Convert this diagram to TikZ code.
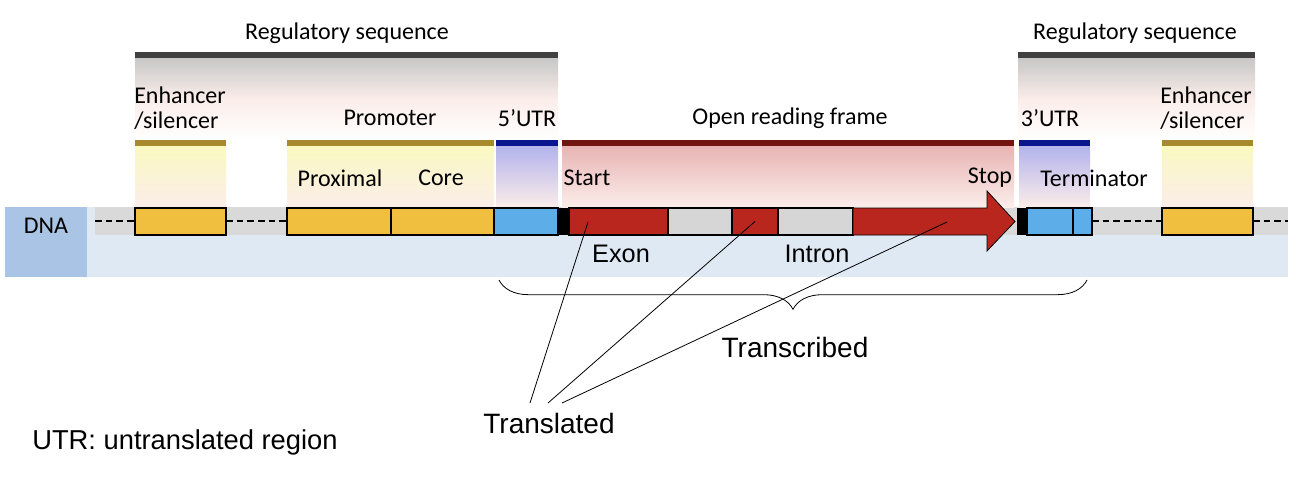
\documentclass[tikz,border=0pt]{standalone}
\usepackage{fontspec}
\setmainfont{Carlito}
\newfontfamily\arial{Liberation Sans}
\usetikzlibrary{decorations.pathreplacing}
\definecolor{gold}{HTML}{F0BF40}
\definecolor{goldbar}{HTML}{A78A2E}
\definecolor{ublue}{HTML}{5DAEE8}
\definecolor{ubar}{HTML}{0B148F}
\definecolor{ered}{HTML}{B9261E}
\definecolor{rbar}{HTML}{72140F}
\definecolor{intr}{HTML}{D6D6D6}
\definecolor{dnal}{HTML}{A9C4E4}
\definecolor{dnab}{HTML}{DFE9F4}
\definecolor{track}{HTML}{D9D9D9}
\definecolor{gy}{HTML}{FAF9C0}
\definecolor{gl}{HTML}{B3B3EC}
\definecolor{gr}{HTML}{E8B4B4}
\definecolor{gp}{HTML}{FBEDEA}
\begin{document}
\begin{tikzpicture}[x=0.75pt,y=-0.75pt,
  box/.style={draw=black,line width=1pt,inner sep=0pt},
  lbl/.style={font=\fontsize{18}{19}\selectfont,inner sep=0pt},
  sans/.style={font=\arial\fontsize{19}{21}\selectfont,inner sep=0pt},
  dsh/.style={line width=0.9pt,dash pattern=on 5pt off 3pt}]
\useasboundingbox (0,0) rectangle (1300,485);
% background bands
\fill[dnab] (87,207) rectangle (1288,277);
\fill[track] (95,207) rectangle (1288,235);
\fill[dnal] (5,207) rectangle (87,277);
\node[lbl] (dna) at (46,226) {DNA};
% regulatory gradients
\shade[top color=black!22,bottom color=white,middle color=gp] (135,58) rectangle (558,140);
\shade[top color=black!22,bottom color=white,middle color=gp] (1018,58) rectangle (1255,140);
\fill[black!75] (135,52) rectangle (558,58);
\fill[black!75] (1018,52) rectangle (1255,58);
\node[lbl] (reg1) at (347,33) {Regulatory sequence};
\node[lbl] (reg2) at (1135,33) {Regulatory sequence};
% label gradients
\foreach \a/\b in {135/226,287/494,1162/1253}{
  \shade[top color=gy,bottom color=gp] (\a,146) rectangle (\b,207);
  \fill[goldbar] (\a,140) rectangle (\b,146);}
\shade[top color=gl,bottom color=gp] (496,146) rectangle (558,207);
\fill[ubar] (496,140) rectangle (558,146);
\shade[top color=gl,bottom color=gp] (1019,146) rectangle (1090,207);
\fill[ubar] (1019,140) rectangle (1090,146);
\shade[top color=gr,bottom color=gp] (562,146) rectangle (1014,207);
\fill[rbar] (562,140) rectangle (1014,146);
% labels
\node[lbl,align=left,anchor=west] (enh1) at (134,108) {Enhancer\\/silencer};
\node[lbl,align=left,anchor=west] (enh2) at (1160,108) {Enhancer\\/silencer};
\node[lbl] (prom) at (390,118) {Promoter};
\node[lbl] (u5) at (527,118) {5’UTR};
\node[lbl] (orf) at (790,118) {Open reading frame};
\node[lbl] (u3) at (1050,118) {3’UTR};
\node[lbl] (prox) at (340,178) {Proximal};
\node[lbl] (core) at (441,178) {Core};
\node[lbl] (start) at (587,178) {Start};
\node[lbl] (stop) at (990,178) {Stop};
\node[lbl] (term) at (1094,178) {Terminator};
% dashed links
\draw[dsh] (95,221) -- (135,221);
\draw[dsh] (226,221) -- (287,221);
\draw[dsh] (1092,221) -- (1162,221);
\draw[dsh] (1253,221) -- (1288,221);
% track boxes
\draw[box,fill=gold] (135,208) rectangle (226,235) node[midway] (e1) {};
\draw[box,fill=gold] (287,208) rectangle (391,235) node[midway] (px) {};
\draw[box,fill=gold] (391,208) rectangle (494,235) node[midway] (cr) {};
\draw[box,fill=ublue] (494,208) rectangle (558,235) node[midway] (b5) {};
\fill[black] (558,208) rectangle (569,235);
\draw[box,fill=ered] (569,208) rectangle (668,235) node[midway] (x1) {};
\draw[box,fill=intr] (668,208) rectangle (732,235) node[midway] (i1) {};
\draw[box,fill=ered] (732,208) rectangle (778,235) node[midway] (x2) {};
\draw[box,fill=intr] (778,208) rectangle (853,235) node[midway] (i2) {};
\draw[line width=0.6pt,fill=ered] (853,208) -- (987,208) -- (987,191) -- (1015,221.5) -- (987,251) -- (987,235) -- (853,235) -- cycle;
\coordinate (x3) at (947,222);
\fill[black] (1017,208) rectangle (1027,235);
\draw[box,fill=ublue] (1027,208) rectangle (1073,235) node[midway] (b3) {};
\draw[box,fill=ublue] (1073,208) rectangle (1092,235);
\draw[box,fill=gold] (1162,208) rectangle (1253,235) node[midway] (e2) {};
% lower labels
\node[sans] (exon) at (621,254) {Exon};
\node[sans] (intron) at (817,254) {Intron};
\draw[line width=0.6pt,decorate,decoration={brace,mirror,amplitude=22pt,raise=0pt}] (499,280) -- (1087,280);
\node[sans,font=\arial\fontsize{21}{23}\selectfont] (trans) at (795,347) {Transcribed};
\node[sans,font=\arial\fontsize{21}{23}\selectfont] (tl) at (549,423) {Translated};
\coordinate (a1) at (530,403); \coordinate (a2) at (548,403); \coordinate (a3) at (562,403);
\draw[line width=0.6pt] (a1) -- (588,222);
\draw[line width=0.6pt] (a2) -- (x2.center);
\draw[line width=0.6pt] (a3) -- (x3);
\node[sans,anchor=west,font=\arial\fontsize{20.5}{22}\selectfont] (note) at (32,442) {UTR: untranslated region};
\end{tikzpicture}
\end{document}
